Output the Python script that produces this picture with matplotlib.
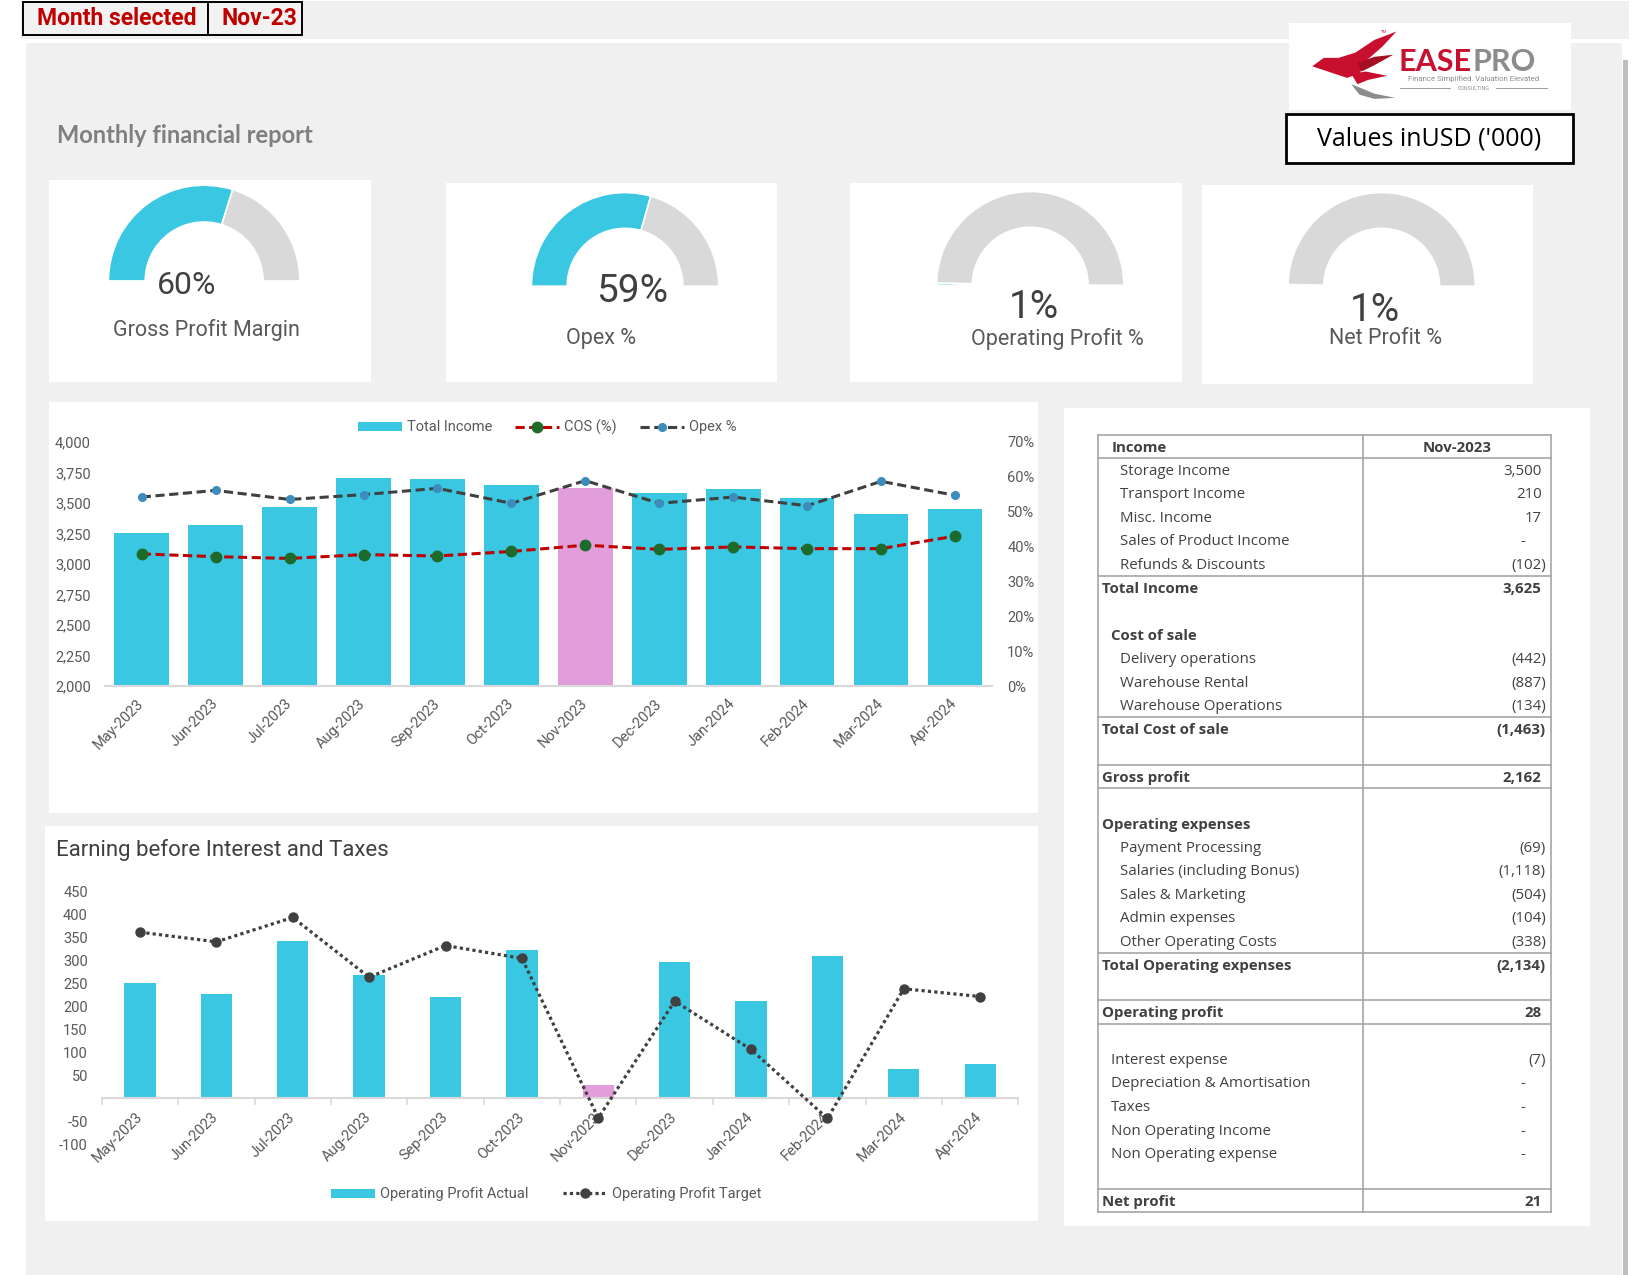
import matplotlib
matplotlib.use('Agg')
import matplotlib.pyplot as plt
from matplotlib.patches import Rectangle, Wedge, Polygon, Patch
from matplotlib.lines import Line2D
import numpy as np

# ---------------- data ----------------
months = ['May-2023', 'Jun-2023', 'Jul-2023', 'Aug-2023', 'Sep-2023', 'Oct-2023',
          'Nov-2023', 'Dec-2023', 'Jan-2024', 'Feb-2024', 'Mar-2024', 'Apr-2024']
total_income = [3252, 3318, 3466, 3707, 3699, 3644, 3625, 3584, 3614, 3537, 3408, 3449]
cos_pct = [37.9, 37.1, 36.6, 37.7, 37.3, 38.6, 40.4, 39.2, 39.9, 39.4, 39.4, 43.0]
opex_pct = [54.2, 56.1, 53.5, 54.9, 56.7, 52.4, 58.9, 52.4, 54.2, 51.7, 58.7, 54.7]
op_profit_actual = [251, 227, 341, 267, 221, 323, 28, 297, 211, 309, 63, 75]
op_profit_target = [361, 340, 393, 263, 332, 304, -43, 211, 106, -44, 238, 221]
selected_month = 'Nov-2023'
selected_short = 'Nov-23'

table_header = ['Income', 'Nov-2023']
table_labels = ['Storage Income', 'Transport Income', 'Misc. Income', 'Sales of Product Income',
                'Refunds & Discounts', 'Total Income', '', 'Cost of sale', 'Delivery operations',
                'Warehouse Rental', 'Warehouse Operations', 'Total Cost of sale', '', 'Gross profit',
                '', 'Operating expenses', 'Payment Processing', 'Salaries (including Bonus)',
                'Sales & Marketing', 'Admin expenses', 'Other Operating Costs',
                'Total Operating expenses', '', 'Operating profit', '', 'Interest expense',
                'Depreciation & Amortisation', 'Taxes', 'Non Operating Income',
                'Non Operating expense', '', 'Net profit']
table_values = [3500, 210, 17, 0, -102, 3625, None, None, -442, -887, -134, -1463, None, 2162,
                None, None, -69, -1118, -504, -104, -338, -2134, None, 28, None, -7, 0, 0, 0, 0,
                None, 21]

gauge_names = ['Gross Profit Margin', 'Opex %', 'Operating Profit %', 'Net Profit %']
gauge_values = [2162 / 3625, 2134 / 3625, 28 / 3625, 21 / 3625]

# ---------------- styles ----------------
CYAN = '#3AC7E2'
PINK = '#E29EDB'
GGRAY = '#D9D9D9'
TXT = '#404040'
LBL = '#595959'
BG = '#F0F0F0'

bold_rows = {'Total Income', 'Cost of sale', 'Total Cost of sale', 'Gross profit',
             'Operating expenses', 'Total Operating expenses', 'Operating profit', 'Net profit'}
indent_x = {0: 1064, 1: 1056, 2: 1047}
indent_lvl = [0, 0, 0, 0, 0, 2, 0, 1, 0, 0, 0, 2, 0, 2, 0, 2, 0, 0, 0, 0, 0, 2, 0, 2, 0,
              1, 1, 1, 1, 1, 0, 2]

plt.rcParams['font.family'] = ['Roboto', 'DejaVu Sans']

W, H = 1568.0, 1211.7
fig = plt.figure(figsize=(16.5, 12.75), dpi=100, facecolor='white')
bg = fig.add_axes([0, 0, 1, 1])
bg.set_xlim(0, W)
bg.set_ylim(H, 0)
bg.axis('off')


def rect(x0, y0, x1, y1, **kw):
    bg.add_patch(Rectangle((x0, y0), x1 - x0, y1 - y0, **kw))


def frac(x0, y0, x1, y1):
    return [x0 / W, 1 - y1 / H, (x1 - x0) / W, (y1 - y0) / H]


# background
rect(20, 1, 1548, 37, fc=BG, ec='none')
rect(25, 41, 1541, H, fc=BG, ec='none')
rect(1542, 57, 1547, H, fc='#BFBFBF', ec='none')

# month selected box
rect(22, 2, 198, 33, fc='#F2F2F2', ec='black', lw=1.4)
rect(198, 2, 287, 33, fc='#F2F2F2', ec='black', lw=1.4)
bg.text(111, 18, 'Month selected', ha='center', va='center', color='#C00000',
        fontsize=16.5, fontweight='bold')
bg.text(247, 18, selected_short, ha='center', va='center', color='#C00000',
        fontsize=16.5, fontweight='bold')

# logo
rect(1225, 22, 1493, 105, fc='white', ec='none')
RED = '#C8102E'
bg.add_patch(Polygon([(1247, 63), (1258, 55), (1272, 55), (1288, 50), (1306, 38), (1327, 30),
                      (1314, 44), (1298, 58), (1292, 70), (1280, 74), (1268, 70), (1256, 66)],
                     closed=True, fc=RED, ec='none'))
bg.add_patch(Polygon([(1290, 60), (1306, 54), (1324, 52), (1306, 62), (1294, 68)],
                     closed=True, fc='#A50E22', ec='none'))
bg.add_patch(Polygon([(1284, 70), (1298, 68), (1318, 72), (1300, 76), (1290, 80)],
                     closed=True, fc=RED, ec='none'))
bg.add_patch(Polygon([(1284, 80), (1292, 90), (1306, 94), (1326, 93), (1306, 89), (1294, 84)],
                     closed=True, fc='#8C8C8C', ec='none'))
bg.text(1315, 30, 'TM', fontsize=3, color=RED, ha='center', va='center')
t_ease = bg.text(1329, 59, 'EASE', fontsize=22, fontweight='bold', color=RED, ha='left',
                 va='center', family=['Lato', 'DejaVu Sans'])
fig.canvas.draw()
bb = t_ease.get_window_extent(renderer=fig.canvas.get_renderer())
x_end = bg.transData.inverted().transform((bb.x1, bb.y0))[0]
bg.text(x_end + 1, 59, 'PRO', fontsize=22, fontweight='bold', color='#8C8C8C', ha='left',
        va='center', family=['Lato', 'DejaVu Sans'])
bg.text(1400, 75, 'Finance Simplified. Valuation Elevated', fontsize=5.6, color='#8C8C8C',
        ha='center', va='center')
bg.text(1400, 84, 'CONSULTING', fontsize=3.8, color='#8C8C8C', ha='center', va='center')
bg.plot([1330, 1378], [84, 84], color='#8C8C8C', lw=0.6)
bg.plot([1422, 1470], [84, 84], color='#8C8C8C', lw=0.6)

# values box
rect(1222, 108, 1495, 155, fc='white', ec='black', lw=2)
bg.text(1358, 132, "Values inUSD ('000)", fontsize=18, color='black', ha='center',
        va='center', family=['Open Sans', 'DejaVu Sans'])

# title
bg.text(54, 129, 'Monthly financial report', fontsize=17, fontweight='bold', color='#7F7F7F',
        ha='left', va='center', family=['Lato', 'DejaVu Sans'])

# gauge panels
panels = [(47, 171, 353, 363), (424, 174, 738, 363), (808, 174, 1123, 363), (1142, 176, 1457, 365)]
for p in panels:
    rect(*p, fc='white', ec='none')
centers = [(194, 267), (594, 272), (979, 271), (1313, 272)]
radii = [(91, 56), (89, 55), (89, 55), (89, 55)]
pct_pos = [(177, 271), (601, 277), (983, 292), (1307, 295)]
pct_size = [23, 28, 28, 28]
name_pos = [(196, 314), (571, 322), (1005, 322), (1317, 322)]
for (cx, cy), (R, r), v, nm, pp, ps, npos in zip(centers, radii, gauge_values, gauge_names,
                                                  pct_pos, pct_size, name_pos):
    a = 180 + 180 * v
    bg.add_patch(Wedge((cx, cy), R, 180, a, width=R - r, fc=CYAN, ec='white', lw=1.2))
    bg.add_patch(Wedge((cx, cy), R, a, 360, width=R - r, fc=GGRAY, ec='white', lw=1.2))
    bg.text(pp[0], pp[1], f'{v * 100:.0f}%', fontsize=ps, color=TXT, ha='center', va='center')
    bg.text(npos[0], npos[1], nm, fontsize=15.5, color=LBL, ha='center', va='center')

# chart panels
rect(47, 382, 986, 773, fc='white', ec='none')
rect(43, 785, 986, 1160, fc='white', ec='none')
rect(1011, 388, 1511, 1165, fc='white', ec='none')

# ---------------- chart 1 ----------------
x = np.arange(len(months))
bar_colors = [PINK if m == selected_month else CYAN for m in months]
ax1 = fig.add_axes(frac(99.6, 420, 942.6, 652))
ax1.set_facecolor('none')
ax1.bar(x, total_income, width=0.74, color=bar_colors, zorder=2)
ax1.set_xlim(-0.5, len(months) - 0.5)
ax1.set_ylim(2000, 4000)
yt = np.arange(2000, 4001, 250)
ax1.set_yticks(yt)
ax1.set_yticklabels([f'{v:,}' for v in yt])
for s in ['top', 'left', 'right']:
    ax1.spines[s].set_visible(False)
ax1.spines['bottom'].set_color('#D9D9D9')
ax1.spines['bottom'].set_linewidth(1.5)
ax1.tick_params(axis='y', length=0, pad=10, labelsize=10.5, labelcolor=LBL)
ax1.set_xticks(x)
ax1.set_xticklabels(months, rotation=45, ha='right', va='center', rotation_mode='anchor')
ax1.tick_params(axis='x', length=0, pad=11, labelsize=10.5, labelcolor=LBL)

ax1b = ax1.twinx()
ax1b.set_ylim(0, 0.7)
ax1b.plot(x, np.array(cos_pct) / 100, color='#C00000', ls=(0, (3, 1.5)), lw=2.2,
          marker='o', ms=7.5, mfc='#1D6B2A', mec='#1D6B2A', zorder=3)
ax1b.plot(x, np.array(opex_pct) / 100, color='#404040', ls=(0, (3, 1.5)), lw=2.2,
          marker='o', ms=5.5, mfc='#3C8DBC', mec='#3C8DBC', zorder=3)
pt = np.arange(0, 0.71, 0.1)
ax1b.set_yticks(pt)
ax1b.set_yticklabels([f'{v * 100:.0f}%' for v in pt])
for s in ['top', 'left', 'right', 'bottom']:
    ax1b.spines[s].set_visible(False)
ax1b.tick_params(axis='y', length=0, pad=11, labelsize=10.5, labelcolor=LBL)

h1 = [Patch(fc=CYAN, ec='none'),
      Line2D([], [], color='#C00000', ls=(0, (3, 1.5)), lw=2.2, marker='o', ms=7.5,
             mfc='#1D6B2A', mec='#1D6B2A'),
      Line2D([], [], color='#404040', ls=(0, (3, 1.5)), lw=2.2, marker='o', ms=5.5,
             mfc='#3C8DBC', mec='#3C8DBC')]
fig.legend(h1, ['Total Income', 'COS (%)', 'Opex %'], loc='center',
           bbox_to_anchor=(520 / W, 1 - 406 / H), ncol=3, frameon=False, fontsize=10.5,
           labelcolor=LBL, handlelength=3.0, handleheight=0.6, handletextpad=0.35,
           columnspacing=1.6)

# ---------------- chart 2 ----------------
bg.text(53, 808, 'Earning before Interest and Taxes', fontsize=16, color=TXT, ha='left',
        va='center')
ax2 = fig.add_axes(frac(96.7, 847, 967.8, 1087.4))
ax2.set_facecolor('none')
ax2.bar(x, op_profit_actual, width=0.41, color=bar_colors, zorder=2)
ax2.plot(x, op_profit_target, color='#404040', ls=(0, (1, 1)), lw=2.3, marker='o', ms=6.5,
         mfc='#404040', mec='#404040', zorder=3)
ax2.set_xlim(-0.5, len(months) - 0.5)
ax2.set_ylim(-100, 450)
yt2 = np.arange(-100, 451, 50)
ax2.set_yticks(yt2)
ax2.set_yticklabels(['' if v == 0 else f'{v}' for v in yt2])
for s in ['top', 'left', 'right']:
    ax2.spines[s].set_visible(False)
ax2.spines['bottom'].set_position(('data', 0))
ax2.spines['bottom'].set_color('#D9D9D9')
ax2.spines['bottom'].set_linewidth(1.5)
ax2.tick_params(axis='y', length=0, pad=10, labelsize=10.5, labelcolor=LBL)
ax2.set_xticks(x)
ax2.set_xticklabels(months, rotation=45, ha='right', va='center', rotation_mode='anchor')
ax2.tick_params(axis='x', which='major', length=0, pad=12, labelsize=10.5, labelcolor=LBL)
ax2.set_xticks(np.arange(-0.5, len(months), 1.0), minor=True)
ax2.tick_params(axis='x', which='minor', length=5, width=1.2, color='#D9D9D9', direction='out')

h2 = [Patch(fc=CYAN, ec='none'),
      Line2D([], [], color='#404040', ls=(0, (1, 1)), lw=2.3, marker='o', ms=6.5,
             mfc='#404040', mec='#404040')]
fig.legend(h2, ['Operating Profit Actual', 'Operating Profit Target'], loc='center',
           bbox_to_anchor=(519 / W, 1 - 1135 / H), ncol=2, frameon=False, fontsize=10.5,
           labelcolor=LBL, handlelength=3.0, handleheight=0.6, handletextpad=0.35,
           columnspacing=2.4)

# ---------------- table ----------------
TX0, TXM, TX1 = 1043, 1295, 1474
TY0, RH = 413, 22.4
nrows = len(table_labels) + 1
LC = '#A6A6A6'
for xv in (TX0, TXM, TX1):
    bg.plot([xv, xv], [TY0, TY0 + nrows * RH], color=LC, lw=1.2)
for k in (0, 1, 6, 12, 14, 15, 22, 24, 25, 32, 33):
    bg.plot([TX0, TX1], [TY0 + k * RH, TY0 + k * RH], color=LC, lw=1.2)

TF = ['Open Sans', 'DejaVu Sans']
bg.text(1056, TY0 + 0.55 * RH, table_header[0], fontsize=10.8, fontweight='bold', color=TXT,
        ha='left', va='center', family=TF)
bg.text(1385, TY0 + 0.55 * RH, table_header[1], fontsize=10.8, fontweight='bold', color=TXT,
        ha='center', va='center', family=TF)


def fmt(v):
    if v is None:
        return ''
    if v == 0:
        return '-'
    if v < 0:
        return f'({abs(v):,})'
    return f'{v:,}'


for i, (lab, val, lvl) in enumerate(zip(table_labels, table_values, indent_lvl)):
    yc = TY0 + (i + 1 + 0.55) * RH
    bold = 'bold' if lab in bold_rows else 'normal'
    if lab:
        bg.text(indent_x[lvl], yc, lab, fontsize=10.8, fontweight=bold, color=TXT,
                ha='left', va='center', family=TF)
    s = fmt(val)
    if s:
        if val == 0:
            xr = 1449
        elif val < 0:
            xr = 1469
        else:
            xr = 1465
        bg.text(xr, yc, s, fontsize=10.8, fontweight=bold, color=TXT, ha='right',
                va='center', family=TF)

fig.savefig('out.png', dpi=100, facecolor='white')
